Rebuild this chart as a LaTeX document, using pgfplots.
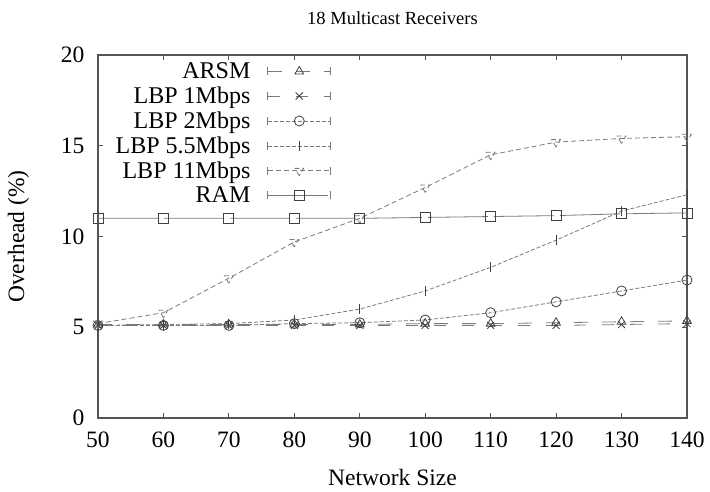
\documentclass[border=0pt]{standalone}
\usepackage{fontspec}
\setmainfont{Liberation Serif}
\usepackage{pgfplots}
\pgfplotsset{compat=1.18}
\definecolor{linegray}{HTML}{7A7A7A}
\definecolor{markgray}{HTML}{404040}
\definecolor{axisgray}{HTML}{555555}

\pgfplotsset{
  gpleg/.style={legend image code/.code={
    \path (0pt,0pt);
    \draw[##1] (16pt,0pt) -- (79pt,0pt);
    \draw[solid,linegray,line width=0.8pt] (16pt,-4pt) -- (16pt,4pt) (79pt,-4pt) -- (79pt,4pt);
    \draw[##1,mark repeat=2,mark phase=2] plot coordinates {(16pt,0pt) (47.5pt,0pt) (79pt,0pt)};
  }},
}

\begin{document}
\begin{tikzpicture}
\path[use as bounding box] (-98pt,-74pt) rectangle (612pt,418pt);
\begin{axis}[
  scale only axis, width=589pt, height=363pt,
  xmin=50, xmax=140, ymin=0, ymax=20,
  xtick={50,60,...,140}, ytick={0,5,10,15,20},
  tick align=inside, major tick length=5pt,
  axis line style={axisgray, line width=1.3pt},
  tick style={axisgray, line width=0.8pt},
  font=\fontsize{23.5}{26}\selectfont,
  /pgf/number format/assume math mode=true,
  xticklabel style={anchor=center, yshift=-22pt},
  yticklabel style={anchor=east, xshift=-10pt},
  xlabel={Network Size}, ylabel={Overhead (\%)},
  every axis x label/.style={at={(axis description cs:0.5,-0.165)}, anchor=center},
  every axis y label/.style={at={(axis description cs:-0.135,0.5)}, rotate=90, anchor=center},
  title={18 Multicast Receivers},
  every axis title/.style={at={(axis description cs:0.5,1.102)}, anchor=center,
    font=\fontsize{18.5}{22}\selectfont},
  legend cell align=right, legend plot pos=right,
  legend style={draw=none, fill=none, at={(0.028,0.982)}, anchor=north west,
    font=\fontsize{24}{26}\selectfont, row sep=4.8pt, inner sep=0pt,
    nodes={inner sep=1pt}},
  gpleg,
  every axis plot/.append style={line width=0.8pt, mark size=5pt,
    mark options={solid, markgray, line width=0.8pt}},
]
\addplot[linegray, dash pattern=on 14pt off 14pt, mark=triangle] coordinates {
(50,5.15) (60,5.15) (70,5.15) (80,5.15) (90,5.15) (100,5.2) (110,5.2) (120,5.25) (130,5.3) (140,5.35)};
\addlegendentry{ARSM}
\addplot[linegray, dash pattern=on 12pt off 16pt, mark=x] coordinates {
(50,5.1) (60,5.1) (70,5.1) (80,5.1) (90,5.1) (100,5.1) (110,5.1) (120,5.1) (130,5.15) (140,5.2)};
\addlegendentry{LBP 1Mbps}
\addplot[linegray, dash pattern=on 4pt off 2pt, mark=o] coordinates {
(50,5.1) (60,5.1) (70,5.1) (80,5.2) (90,5.25) (100,5.4) (110,5.8) (120,6.4) (130,7.0) (140,7.6)};
\addlegendentry{LBP 2Mbps}
\addplot[linegray, dash pattern=on 4pt off 2pt, mark=|] coordinates {
(50,5.1) (60,5.15) (70,5.2) (80,5.4) (90,6.0) (100,7.0) (110,8.3) (120,9.8) (130,11.4) (140,12.3)};
\addlegendentry{LBP 5.5Mbps}
\addplot[linegray, dash pattern=on 5pt off 3pt, mark=triangle, mark options={rotate=180}] coordinates {
(50,5.2) (60,5.8) (70,7.7) (80,9.7) (90,11.0) (100,12.7) (110,14.5) (120,15.2) (130,15.4) (140,15.5)};
\addlegendentry{LBP 11Mbps}
\addplot[linegray, dash pattern=on 60pt off 6pt, mark=square] coordinates {
(50,11.0) (60,11.0) (70,11.0) (80,11.0) (90,11.0) (100,11.05) (110,11.1) (120,11.15) (130,11.25) (140,11.3)};
\addlegendentry{RAM}
\end{axis}
\end{tikzpicture}
\end{document}
